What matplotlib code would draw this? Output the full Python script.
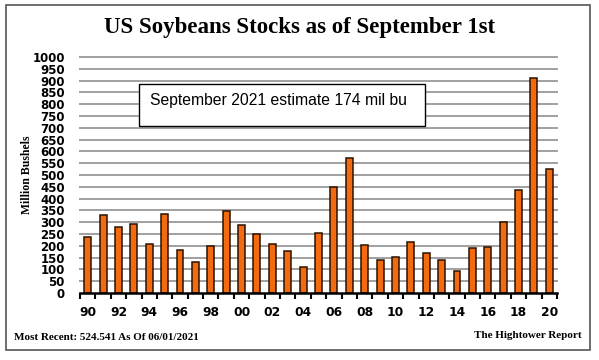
import matplotlib.pyplot as plt
from matplotlib.patches import Rectangle
import numpy as np

# September 1 soybean stocks, million bushels
years = list(range(1990, 2021))
stocks = [239, 329, 278, 292, 209, 335, 183, 132, 200, 348,
          290, 248, 208, 178, 112, 256, 449, 574, 205, 138,
          151, 215, 169, 141, 92, 191, 197, 302, 438, 909, 525]
year_labels = ["%02d" % (y % 100) for y in years]

fig = plt.figure(figsize=(5.99, 3.6), dpi=100)

# Outer frame
fig.patches.append(Rectangle((6 / 599, 10 / 360), 584 / 599, 345 / 360,
                             transform=fig.transFigure, fill=False,
                             edgecolor="#555555", linewidth=1.2))

ax = fig.add_axes([80 / 599, 1 - 293 / 360, 477 / 599, 236 / 360])

x = np.arange(len(years))
ax.bar(x, stocks, width=0.45, color="#F26B10", edgecolor="#2a1200",
       linewidth=1.1, zorder=3)

ax.set_xlim(-0.5, len(years) - 0.5)
ax.set_ylim(0, 1000)

# Horizontal gridlines
for v in range(50, 1001, 50):
    ax.axhline(v, color="#a0a0a0", linewidth=1.4, zorder=1, clip_on=False)

for s in ["top", "right", "left"]:
    ax.spines[s].set_visible(False)
ax.spines["bottom"].set_linewidth(1.8)
ax.spines["bottom"].set_color("black")
ax.spines["bottom"].set_zorder(4)

ax.set_yticks(range(0, 1001, 50))
ax.set_yticklabels([str(v) for v in range(0, 1001, 50)],
                   fontsize=8.5, fontweight="bold", family="DejaVu Sans")
ax.tick_params(axis="y", length=0, pad=11)

ax.set_xticks(x[::2])
ax.set_xticklabels(year_labels[::2], fontsize=8.8, fontweight="bold",
                   family="DejaVu Sans")
ax.set_xticks(np.arange(-0.5, len(years), 1), minor=True)
ax.tick_params(axis="x", which="major", length=0, pad=9)
ax.tick_params(axis="x", which="minor", length=4, width=1.5, color="black")

ax.set_ylabel("Million Bushels", fontsize=8.5, fontweight="bold",
              family="Liberation Serif")
ax.yaxis.set_label_coords(-0.099, 0.5)

# Title
fig.text(300 / 599, 1 - 27 / 360, "US Soybeans Stocks as of September 1st",
         ha="center", va="center", fontsize=16.5, fontweight="bold",
         family="Liberation Serif")

# Annotation box
fig.patches.append(Rectangle((139 / 599, 1 - 126 / 360), 286 / 599, 42 / 360,
                             transform=fig.transFigure, facecolor="white",
                             edgecolor="black", linewidth=1.0, zorder=5))
fig.text(150 / 599, 1 - 101 / 360, "September 2021 estimate 174 mil bu",
         ha="left", va="center", fontsize=11.3, family="Liberation Sans",
         zorder=6)

# Footer
fig.text(14 / 599, 1 - 338 / 360, "Most Recent: 524.541 As Of 06/01/2021",
         ha="left", va="center", fontsize=8, fontweight="bold",
         family="Liberation Serif")
fig.text(582 / 599, 1 - 335 / 360, "The Hightower Report",
         ha="right", va="center", fontsize=8, fontweight="bold",
         family="Liberation Serif")

fig.savefig("out.png", dpi=100)
